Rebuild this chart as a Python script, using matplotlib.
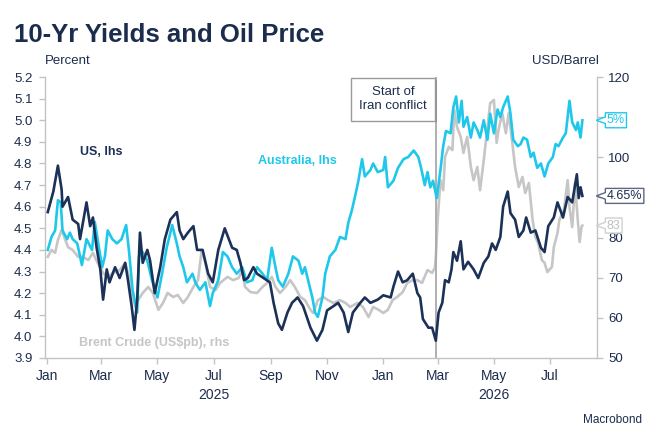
"""10-Yr yields (US, Australia) vs Brent crude, Macrobond-style chart."""

import matplotlib

matplotlib.use("Agg")
import matplotlib.dates as mdates
import matplotlib.patheffects as pe
import matplotlib.pyplot as plt
import numpy as np
import pandas as pd
from matplotlib.path import Path
from matplotlib.transforms import blended_transform_factory

NAVY = "#1b3157"
CYAN = "#1fc8ea"
GREY = "#c6c6c6"
TXT = "#1c2c4c"
AXC = "#c3c3c3"

plt.rcParams["font.family"] = ["Liberation Sans", "DejaVu Sans"]

START = pd.Timestamp("2025-01-01")
CONFLICT = pd.Timestamp("2026-02-27")

# days after START, value
us_days = [1, 7, 12, 16, 17, 23, 28, 34, 36, 43, 47, 50, 54, 58, 61, 65, 68, 74,
           79, 85, 88, 92, 95, 98, 101, 104, 109, 112, 117, 123, 128, 134, 141,
           144, 148, 153, 159, 163, 169, 175, 180, 186, 193, 201, 206, 210, 214,
           218, 224, 228, 235, 242, 246, 251, 255, 261, 266, 272, 278, 286, 293,
           299, 304, 311, 316, 322, 327, 332, 340, 345, 351, 359, 365, 373, 376,
           381, 386, 391, 397, 402, 405, 408, 414, 418, 422, 425, 429, 432, 436,
           439, 441, 445, 449, 452, 457, 463, 468, 474, 479, 483, 487, 492, 495,
           500, 503, 508, 512, 517, 520, 525, 530, 536, 540, 544, 550, 554, 560,
           565, 570, 575, 577, 579, 581]
us_yield = [4.575, 4.67, 4.79, 4.68, 4.60, 4.645, 4.54, 4.52, 4.45, 4.62, 4.51,
            4.55, 4.41, 4.31, 4.17, 4.31, 4.25, 4.32, 4.27, 4.34, 4.26, 4.14,
            4.03, 4.17, 4.48, 4.34, 4.40, 4.35, 4.20, 4.32, 4.45, 4.54, 4.575,
            4.49, 4.45, 4.48, 4.51, 4.40, 4.40, 4.29, 4.25, 4.40, 4.50, 4.41,
            4.40, 4.34, 4.26, 4.27, 4.32, 4.29, 4.27, 4.25, 4.155, 4.06, 4.03,
            4.11, 4.155, 4.18, 4.14, 4.04, 3.98, 4.03, 4.12, 4.14, 4.155, 4.11,
            4.02, 4.11, 4.155, 4.18, 4.155, 4.17, 4.19, 4.18, 4.23, 4.30, 4.25,
            4.26, 4.29, 4.20, 4.18, 4.08, 4.04, 4.04, 3.98, 4.11, 4.155, 4.26,
            4.25, 4.31, 4.39, 4.35, 4.44, 4.31, 4.345, 4.31, 4.27, 4.34, 4.37,
            4.43, 4.40, 4.46, 4.60, 4.67, 4.57, 4.54, 4.46, 4.49, 4.55, 4.48,
            4.49, 4.41, 4.39, 4.51, 4.55, 4.62, 4.55, 4.645, 4.62, 4.75, 4.64,
            4.69, 4.65]

au_days = [1, 5, 9, 12, 15, 17, 22, 25, 28, 33, 38, 43, 49, 52, 55, 60, 63, 66,
           71, 76, 81, 86, 89, 93, 98, 100, 104, 109, 114, 120, 125, 130, 136,
           141, 144, 148, 152, 158, 161, 166, 172, 177, 180, 186, 191, 196, 201,
           206, 212, 217, 223, 228, 234, 239, 244, 248, 251, 256, 262, 267, 273,
           277, 280, 284, 288, 291, 294, 299, 302, 307, 313, 318, 324, 327, 331,
           335, 338, 342, 345, 351, 354, 359, 365, 367, 370, 376, 381, 387, 392,
           398, 403, 406, 410, 413, 416, 419, 423, 427, 430, 433, 438, 441, 444,
           447, 450, 452, 456, 460, 463, 467, 470, 474, 478, 481, 485, 489, 492,
           495, 500, 503, 506, 511, 514, 517, 521, 525, 528, 532, 536, 540, 544,
           549, 552, 555, 560, 563, 567, 570, 574, 576, 579, 581]
au_yield = [4.40, 4.46, 4.49, 4.63, 4.62, 4.49, 4.45, 4.48, 4.45, 4.43, 4.33,
            4.45, 4.40, 4.53, 4.45, 4.32, 4.37, 4.49, 4.45, 4.43, 4.45, 4.515,
            4.40, 4.215, 4.11, 4.37, 4.39, 4.35, 4.26, 4.18, 4.29, 4.41, 4.515,
            4.43, 4.37, 4.32, 4.25, 4.29, 4.25, 4.215, 4.25, 4.14, 4.20, 4.26,
            4.39, 4.37, 4.32, 4.29, 4.32, 4.25, 4.26, 4.32, 4.29, 4.26, 4.41,
            4.32, 4.26, 4.23, 4.29, 4.37, 4.35, 4.29, 4.32, 4.25, 4.18, 4.11,
            4.09, 4.18, 4.29, 4.37, 4.40, 4.46, 4.45, 4.525, 4.585, 4.66, 4.72,
            4.82, 4.74, 4.77, 4.80, 4.76, 4.77, 4.83, 4.69, 4.72, 4.78, 4.82,
            4.83, 4.86, 4.83, 4.78, 4.70, 4.76, 4.69, 4.72, 4.64, 4.77, 4.88,
            4.95, 4.94, 5.06, 5.11, 4.99, 5.09, 4.97, 5.015, 4.92, 4.99, 4.955,
            4.92, 5.00, 4.91, 5.03, 4.94, 5.05, 5.015, 5.06, 5.11, 5.03, 4.91,
            4.88, 4.89, 4.92, 4.91, 4.83, 4.85, 4.78, 4.80, 4.74, 4.80, 4.83,
            4.89, 4.88, 4.92, 4.94, 5.09, 4.99, 4.955, 4.99, 4.92, 5.00]

brent_days = [1, 5, 9, 12, 16, 20, 23, 28, 34, 39, 45, 50, 55, 61, 66, 72, 79,
              85, 88, 92, 96, 99, 104, 110, 115, 121, 126, 131, 137, 142, 148,
              153, 159, 164, 168, 172, 177, 183, 188, 196, 202, 208, 212, 215,
              221, 228, 234, 239, 244, 248, 253, 259, 264, 269, 275, 280, 286,
              289, 294, 300, 305, 311, 318, 324, 329, 337, 343, 349, 354, 360,
              365, 370, 375, 380, 386, 391, 397, 402, 407, 413, 418, 421, 422,
              424, 427, 430, 432, 436, 440, 442, 445, 449, 452, 456, 460, 463,
              467, 470, 474, 478, 481, 485, 488, 490, 494, 498, 501, 505, 508,
              512, 516, 519, 523, 527, 530, 533, 537, 540, 543, 548, 550, 554,
              556, 561, 565, 567, 570, 573, 576, 578, 580, 581]
brent_price = [75.2, 76.9, 76.2, 79.4, 81.9, 79.4, 77.6, 76.9, 75.2, 75.2, 74.4,
               76.2, 73.7, 71.2, 70.2, 71.2, 71.9, 73.7, 71.2, 66.2, 62.7, 64.4,
               66.2, 67.7, 66.2, 62.0, 63.7, 66.2, 65.2, 65.7, 63.7, 65.2, 67.7,
               69.4, 76.9, 73.7, 67.7, 66.9, 68.7, 70.2, 69.4, 69.9, 71.9, 67.7,
               66.4, 66.2, 67.7, 68.7, 70.2, 67.7, 66.2, 67.7, 69.4, 67.7, 65.2,
               64.4, 62.0, 61.2, 64.4, 65.2, 64.4, 63.7, 64.4, 63.7, 62.7, 63.7,
               62.7, 60.2, 62.7, 62.0, 61.2, 62.0, 64.4, 65.2, 66.4, 68.7, 69.4,
               69.4, 68.7, 71.9, 71.2, 72.5, 75.0, 84.4, 94.3, 91.8, 100.1,
               102.6, 101.8, 111.8, 107.5, 105.1, 101.1, 105.1, 97.6, 94.3, 97.6,
               91.8, 99.3, 107.5, 113.5, 114.3, 103.6, 106.8, 111.0, 106.0,
               111.0, 103.6, 97.6, 92.6, 95.1, 91.1, 93.6, 84.4, 80.1, 78.6,
               74.4, 73.7, 71.4, 72.7, 77.6, 81.1, 84.4, 86.9, 94.3, 87.6, 82.6,
               93.6, 84.4, 78.9, 82.6, 83.0]

# right-axis ticks; 110 and 90 sit under the end-value labels, so no text there
rhs_ticks = [50, 60, 70, 80, 90, 100, 110, 120]
rhs_labels = ["50", "60", "70", "80", "", "100", "", "120"]


def to_dates(days):
    return START + pd.to_timedelta(np.array(days), unit="D")


def callout(x0, y0, width, height, mutation_size):
    """Label box with a small pointer on its left side."""
    pad = 0.12 * mutation_size
    x0, y0 = x0 - pad, y0 - pad
    x1, y1 = x0 + width + 2 * pad, y0 + height + 2 * pad
    ym = (y0 + y1) / 2
    h = y1 - y0
    tip = 0.72 * mutation_size
    verts = [(x0, y0), (x1, y0), (x1, y1), (x0, y1), (x0, ym + 0.22 * h),
             (x0 - tip, ym), (x0, ym - 0.22 * h), (x0, y0), (x0, y0)]
    return Path(verts, closed=True)


fig = plt.figure(figsize=(6.62, 4.48), dpi=100)
ax = fig.add_axes([0.068, 0.201, 0.834, 0.627])
ax2 = ax.twinx()
ax.set_zorder(ax2.get_zorder() + 1)
ax.patch.set_visible(False)

ax2.plot(to_dates(brent_days), brent_price, color=GREY, lw=1.9, zorder=2)
ax.plot(to_dates(au_days), au_yield, color=CYAN, lw=1.9, zorder=3)
ax.plot(to_dates(us_days), us_yield, color=NAVY, lw=1.9, zorder=4)
ax.axvline(CONFLICT, color="#a9a9a9", lw=1.3, zorder=2)

ax.set_xlim(pd.Timestamp("2024-12-30"), pd.Timestamp("2026-08-21"))
ax.set_ylim(3.9, 5.2)
ax2.set_ylim(50, 120)
ax.set_yticks(np.arange(3.9, 5.21, 0.1))
ax.yaxis.set_major_formatter(matplotlib.ticker.FormatStrFormatter("%.1f"))
ax2.set_yticks(rhs_ticks)
ax2.set_yticklabels(rhs_labels)
ax.xaxis.set_major_locator(mdates.MonthLocator(bymonth=[1, 3, 5, 7, 9, 11]))
ax.xaxis.set_major_formatter(mdates.DateFormatter("%b"))

for a in (ax, ax2):
    for s in a.spines.values():
        s.set_visible(False)
    a.tick_params(colors=AXC, labelcolor=TXT, labelsize=9.5, length=4, width=1)
ax.spines["left"].set_visible(True)
ax.spines["bottom"].set_visible(True)
ax2.spines["right"].set_visible(True)
for s in (ax.spines["left"], ax.spines["bottom"], ax2.spines["right"]):
    s.set_color(AXC)
    s.set_linewidth(1)
ax.tick_params(axis="y", pad=5)
ax2.tick_params(axis="y", pad=4)
ax.tick_params(axis="x", pad=4, labelsize=10)

# year labels under the month ticks
yr = blended_transform_factory(ax.transData, ax.transAxes)
ax.text(pd.Timestamp("2025-07-01"), -0.132, "2025", transform=yr,
        ha="center", va="center", fontsize=10, color=TXT)
ax.text(pd.Timestamp("2026-05-01"), -0.132, "2026", transform=yr,
        ha="center", va="center", fontsize=10, color=TXT)

# series labels
ax.text(0.063, 0.733, "US, lhs", transform=ax.transAxes, fontsize=9,
        fontweight="bold", color=NAVY, va="center")
ax.text(0.386, 0.701, "Australia, lhs", transform=ax.transAxes, fontsize=9,
        fontweight="bold", color=CYAN, va="center")
ax.text(0.062, 0.053, "Brent Crude (US$pb), rhs", transform=ax.transAxes,
        fontsize=9, fontweight="bold", color=GREY, va="center")

# event box
box = ax.annotate("Start of\nIran conflict", xy=(CONFLICT, 1.0),
                  xycoords=("data", "axes fraction"), xytext=(-6.5, -6.5),
                  textcoords="offset points", ha="right", va="top",
                  multialignment="center", fontsize=9.5, color=TXT,
                  linespacing=1.25,
                  bbox=dict(boxstyle="square,pad=0.62", fc="white",
                            ec="#9a9a9a", lw=1), zorder=6)
box.get_bbox_patch().set_path_effects(
    [pe.SimplePatchShadow(offset=(1.2, -1.2), alpha=0.35), pe.Normal()])

# end-value callouts
rt = blended_transform_factory(ax.transAxes, ax.transData)
rt2 = blended_transform_factory(ax2.transAxes, ax2.transData)
ends = [(rt, au_yield[-1], f"{au_yield[-1]:g}%", CYAN, CYAN),
        (rt, us_yield[-1], f"{us_yield[-1]:.2f}%", TXT, "#5b6785"),
        (rt2, brent_price[-1], f"{brent_price[-1]:.0f}", "#c0c0c0", "#d0d0d0")]
for tr, val, label, tc, ec in ends:
    ax.annotate(label, xy=(1.0, val), xycoords=tr, xytext=(7, 0),
                textcoords="offset points", ha="left", va="center",
                fontsize=9, color=tc, annotation_clip=False,
                bbox=dict(boxstyle=callout, fc="white", ec=ec, lw=1))

fig.text(0.021, 0.906, "10-Yr Yields and Oil Price", fontsize=18.5,
         fontweight="bold", color=TXT, va="baseline", ha="left")
fig.text(0.068, 0.864, "Percent", fontsize=9.5, color=TXT, va="center")
fig.text(0.905, 0.864, "USD/Barrel", fontsize=9.5, color=TXT, va="center",
         ha="right")
fig.text(0.970, 0.062, "Macrobond", fontsize=8.5, color=TXT, va="center",
         ha="right")

fig.savefig("out.png", dpi=100)
